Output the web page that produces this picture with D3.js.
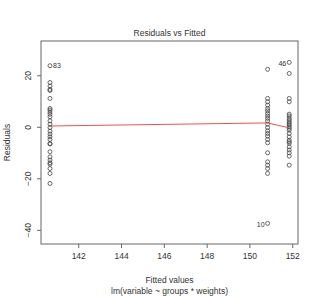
<!DOCTYPE html>
<html>
<head>
<meta charset="utf-8">
<script src="https://cdn.jsdelivr.net/npm/d3@7"></script>
<style>
  body { margin: 0; background: #fff; }
  text { font-family: "Liberation Sans", Arial, sans-serif; fill: #333; }
</style>
</head>
<body>
<div id="chart"></div>
<script>
// fitted value of each group (x) and residuals
var fittedGroups = [140.68, 150.85, 151.86];
var residualsA = [23.7, 17.2, 15.8, 14.5, 14.1, 11, 7.1, 6.5, 5.7, 4.9, 3.9, 2.3, 1, -0.3,
                  -1.7, -2.8, -3.9, -4.9, -6.5, -6.7, -9.7, -11.7, -12.9, -14, -14.5, -16.2, -18.1, -22];
var residualsB = [22.3, 11, 9.7, 8.4, 7.1, 6.2, 5.2, 4.2, 3.3, 2.3, 1, -0.3, -1.6, -2.6, -3.6,
                  -4.9, -6.2, -10.1, -13.6, -14.9, -16.2, -18.1, -37.5];
var residualsC = [25, 20.7, 11, 9.7, 4.9, 4.2, 3.3, 2.6, 1.9, 1.3, 0.7, 0, -0.6, -1.3, -2.6,
                  -3.9, -5.2, -5.8, -6.4, -7.8, -9, -10.1, -11.4, -14.9];
var labelled = [{ group: 0, value: 23.7, id: "83", side: "right" },
                { group: 2, value: 25, id: "46", side: "left" },
                { group: 1, value: -37.5, id: "10", side: "left" }];
var smoothX = [140.68, 150.85, 151.86];
var smoothY = [0.3, 1.5, -0.4];
var xTicks = [142, 144, 146, 148, 150, 152];
var yTicks = [-40, -20, 0, 20];

var width = 320, height = 296;
var margin = { top: 41, right: 22, bottom: 52, left: 41 };

var svg = d3.select("#chart").append("svg")
    .attr("width", width)
    .attr("height", height);

var x = d3.scaleLinear().domain([140.26, 152.27])
    .range([margin.left, width - margin.right]);
var y = d3.scaleLinear().domain([-45.5, 33.3])
    .range([height - margin.bottom, margin.top]);

// plot box
svg.append("rect")
    .attr("x", margin.left)
    .attr("y", margin.top)
    .attr("width", width - margin.left - margin.right)
    .attr("height", height - margin.top - margin.bottom)
    .attr("fill", "none")
    .attr("stroke", "#666")
    .attr("stroke-width", 1);

var xAxis = svg.append("g")
    .attr("transform", "translate(0," + (height - margin.bottom) + ")")
    .call(d3.axisBottom(x).tickValues(xTicks).tickSize(4).tickPadding(5).tickFormat(d3.format("d")));
xAxis.select(".domain").remove();
xAxis.selectAll("line").attr("stroke", "#666");
xAxis.selectAll("text").style("font-size", "8.5px").attr("fill", "#333");

var yAxis = svg.append("g")
    .attr("transform", "translate(" + margin.left + ",0)")
    .call(d3.axisLeft(y).tickValues(yTicks).tickSize(4).tickFormat(d3.format("d")));
yAxis.select(".domain").remove();
yAxis.selectAll("line").attr("stroke", "#666");
yAxis.selectAll("text")
    .style("font-size", "8.5px")
    .attr("fill", "#333")
    .attr("x", 0).attr("dy", 0)
    .attr("text-anchor", "middle")
    .attr("transform", "translate(-10,0) rotate(-90)");

var groups = [residualsA, residualsB, residualsC];
var points = [];
groups.forEach(function(g, gi) {
    g.forEach(function(r) { points.push({ fx: fittedGroups[gi], r: r }); });
});

svg.selectAll(".dot")
    .data(points)
    .enter().append("circle")
    .attr("class", "dot")
    .attr("cx", function(d) { return x(d.fx); })
    .attr("cy", function(d) { return y(d.r); })
    .attr("r", 2)
    .attr("fill", "none")
    .attr("stroke", "#444")
    .attr("stroke-width", 0.8);

// smoother, drawn over the points like R does
svg.append("path")
    .datum(smoothX.map(function(d, i) { return [d, smoothY[i]]; }))
    .attr("fill", "none")
    .attr("stroke", "#e8403f")
    .attr("stroke-width", 0.9)
    .attr("d", d3.line()
        .x(function(d) { return x(d[0]); })
        .y(function(d) { return y(d[1]); }));

svg.selectAll(".pt-label")
    .data(labelled)
    .enter().append("text")
    .attr("class", "pt-label")
    .attr("x", function(d) { return x(fittedGroups[d.group]) + (d.side == "right" ? 3 : -3); })
    .attr("y", function(d) { return y(d.value) + (d.side == "right" ? 2.5 : 3.5); })
    .attr("text-anchor", function(d) { return d.side == "right" ? "start" : "end"; })
    .style("font-size", "7px")
    .text(function(d) { return d.id; });

svg.append("text")
    .attr("x", (margin.left + width - margin.right) / 2)
    .attr("y", 36)
    .attr("text-anchor", "middle")
    .style("font-size", "8.5px")
    .text("Residuals vs Fitted");

svg.append("text")
    .attr("x", (margin.left + width - margin.right) / 2)
    .attr("y", 283)
    .attr("text-anchor", "middle")
    .style("font-size", "8.5px")
    .text("Fitted values");

svg.append("text")
    .attr("x", (margin.left + width - margin.right) / 2)
    .attr("y", 294)
    .attr("text-anchor", "middle")
    .style("font-size", "8.5px")
    .text("lm(variable ~ groups * weights)");

svg.append("text")
    .attr("transform", "translate(10," + ((margin.top + height - margin.bottom) / 2) + ") rotate(-90)")
    .attr("text-anchor", "middle")
    .style("font-size", "8.5px")
    .text("Residuals");
</script>
</body>
</html>
